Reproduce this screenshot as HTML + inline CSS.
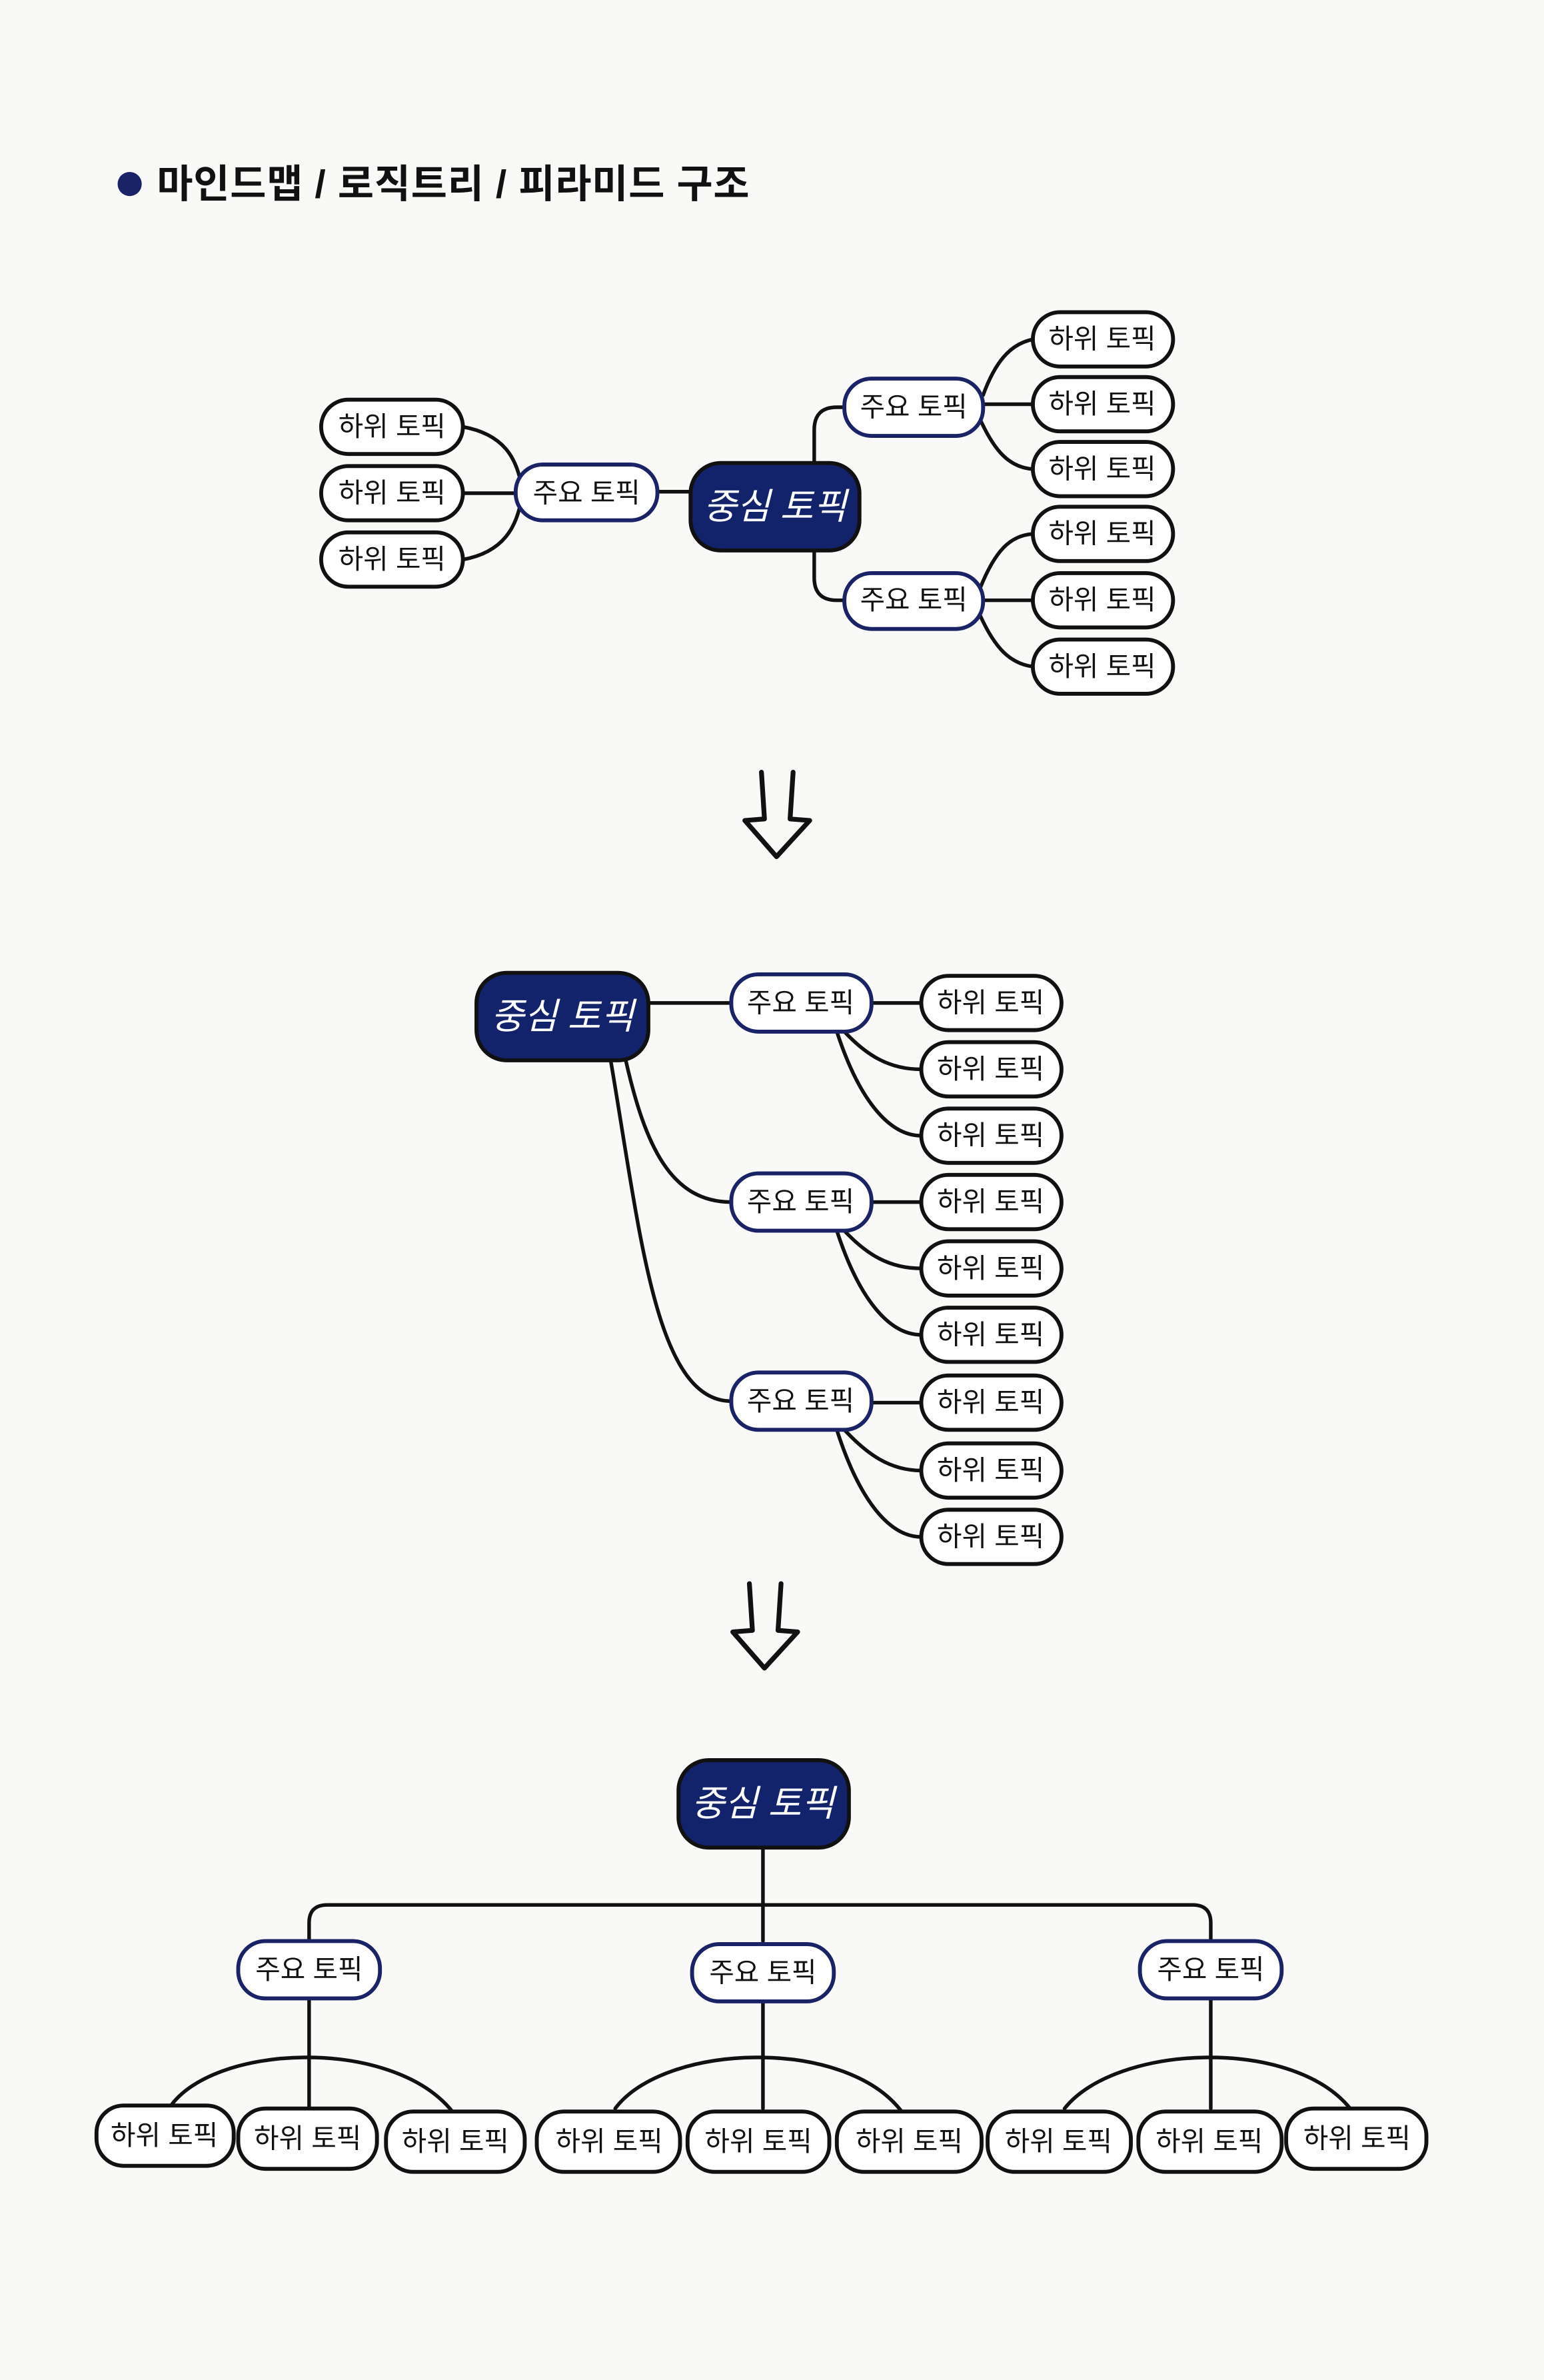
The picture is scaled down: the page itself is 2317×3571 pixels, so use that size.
<!DOCTYPE html>
<html><head><meta charset="utf-8"><style>
html,body{margin:0;padding:0;background:#f9f9f8;}
svg{display:block;}
text{font-family:"Liberation Sans","Noto Sans CJK KR",sans-serif;}
</style></head><body>
<svg width="2317" height="3571" viewBox="0 0 1024 1578" preserveAspectRatio="none" xmlns="http://www.w3.org/2000/svg">
<rect width="1024" height="1578" fill="#f9f9f8"/>
<circle cx="86" cy="122" r="8" fill="#1a2366"/>
<text x="104" y="131" font-size="26" font-weight="bold" fill="#111" textLength="393" lengthAdjust="spacing">마인드맵 / 로직트리 / 피라미드 구조</text>

<g fill="none" stroke="#111" stroke-width="2.4" stroke-linecap="round">
<path d="M540,307 V285 Q540,270 555,270 H560"/>
<path d="M540,365 V383 Q540,398 555,398 H560"/>
<path d="M436,326 H458"/>
<path d="M307,283 C335,288 342,305 345,318"/>
<path d="M307,327 H342"/>
<path d="M307,371 C335,366 342,348 345,335"/>
<path d="M652,262 C660,240 670,228 685,225"/>
<path d="M652,268 H685"/>
<path d="M650,278 C660,300 670,310 685,311"/>
<path d="M650,390 C660,365 670,355 685,354"/>
<path d="M652,398 H685"/>
<path d="M650,408 C660,430 670,440 685,442"/>
<path d="M505,512 L507,543 L494,544 L515,568 L537,544 L524,543 L526,512" stroke-width="3.2" stroke-linejoin="round"/>
<path d="M497,1050 L499,1081 L486,1082 L507,1106 L529,1082 L516,1081 L518,1050" stroke-width="3.2" stroke-linejoin="round"/>
<path d="M430,665 H485"/>
<path d="M415,703 C428,760 445,797 485,797"/>
<path d="M405,703 C425,820 435,929 485,929"/>
<path d="M578,665 H611"/>
<path d="M560,684 C575,700 590,709 611,709"/>
<path d="M555,684 C570,730 590,753 611,753"/>
<path d="M578,797 H611"/>
<path d="M560,816 C575,832 590,841 611,841"/>
<path d="M555,816 C570,862 590,885 611,885"/>
<path d="M578,930 H611"/>
<path d="M560,948 C575,964 590,975 611,975"/>
<path d="M555,948 C570,995 590,1019 611,1019"/>
<path d="M506,1225 V1287"/>
<path d="M205,1287 V1275 Q205,1263 217,1263 H791 Q803,1263 803,1275 V1287"/>
<path d="M205,1325 V1398"/>
<path d="M506,1325 V1398"/>
<path d="M803,1325 V1398"/>
<path d="M112,1398 C140,1355 260,1350 300,1400"/>
<path d="M408,1398 C440,1355 560,1350 598,1400"/>
<path d="M706,1398 C740,1355 860,1350 897,1400"/>
</g>

<g stroke-width="2.6">
<rect x="458" y="307" width="112" height="58" rx="20" fill="#13236b" stroke="#111"/>
<rect x="316" y="645" width="114" height="58" rx="20" fill="#13236b" stroke="#111"/>
<rect x="450" y="1167" width="113" height="58" rx="20" fill="#13236b" stroke="#111"/>
<g fill="#fff" stroke="#1a2366">
<rect x="342" y="308" width="94" height="37" rx="18"/>
<rect x="560" y="251" width="92" height="38" rx="18"/>
<rect x="560" y="380" width="92" height="37" rx="18"/>
<rect x="485" y="646" width="93" height="38" rx="18"/>
<rect x="485" y="778" width="93" height="38" rx="18"/>
<rect x="485" y="910" width="93" height="38" rx="18"/>
<rect x="158" y="1287" width="94" height="38" rx="18"/>
<rect x="459" y="1289" width="94" height="38" rx="18"/>
<rect x="756" y="1287" width="94" height="38" rx="18"/>
</g>
<g fill="#fff" stroke="#111">
<rect x="213" y="265" width="94" height="36" rx="18"/>
<rect x="213" y="309" width="94" height="36" rx="18"/>
<rect x="213" y="353" width="94" height="36" rx="18"/>
<rect x="685" y="207" width="93" height="36" rx="18"/>
<rect x="685" y="250" width="93" height="36" rx="18"/>
<rect x="685" y="293" width="93" height="36" rx="18"/>
<rect x="685" y="336" width="93" height="36" rx="18"/>
<rect x="685" y="380" width="93" height="36" rx="18"/>
<rect x="685" y="424" width="93" height="36" rx="18"/>
<rect x="611" y="647" width="93" height="36" rx="18"/>
<rect x="611" y="691" width="93" height="36" rx="18"/>
<rect x="611" y="735" width="93" height="36" rx="18"/>
<rect x="611" y="779" width="93" height="36" rx="18"/>
<rect x="611" y="823" width="93" height="36" rx="18"/>
<rect x="611" y="867" width="93" height="36" rx="18"/>
<rect x="611" y="912" width="93" height="36" rx="18"/>
<rect x="611" y="957" width="93" height="36" rx="18"/>
<rect x="611" y="1001" width="93" height="36" rx="18"/>
<rect x="64" y="1396" width="91" height="40" rx="18"/>
<rect x="158" y="1398" width="92" height="40" rx="18"/>
<rect x="256" y="1400" width="92" height="40" rx="18"/>
<rect x="356" y="1400" width="95" height="40" rx="18"/>
<rect x="456" y="1400" width="94" height="40" rx="18"/>
<rect x="555" y="1400" width="96" height="40" rx="18"/>
<rect x="655" y="1400" width="95" height="40" rx="18"/>
<rect x="755" y="1400" width="95" height="40" rx="18"/>
<rect x="853" y="1398" width="93" height="40" rx="18"/>
</g>
</g>

<g font-size="24" fill="#fff" text-anchor="middle" font-style="italic">
<text x="514" y="344">중심 토픽</text>
<text x="373" y="682">중심 토픽</text>
<text x="506" y="1204">중심 토픽</text>
</g>
<g font-size="18" fill="#111" text-anchor="middle">
<text x="389" y="333">주요 토픽</text>
<text x="606" y="276">주요 토픽</text>
<text x="606" y="404">주요 토픽</text>
<text x="531" y="671">주요 토픽</text>
<text x="531" y="803">주요 토픽</text>
<text x="531" y="935">주요 토픽</text>
<text x="205" y="1312">주요 토픽</text>
<text x="506" y="1314">주요 토픽</text>
<text x="803" y="1312">주요 토픽</text>
<text x="260" y="289">하위 토픽</text>
<text x="260" y="333">하위 토픽</text>
<text x="260" y="377">하위 토픽</text>
<text x="731" y="231">하위 토픽</text>
<text x="731" y="274">하위 토픽</text>
<text x="731" y="317">하위 토픽</text>
<text x="731" y="360">하위 토픽</text>
<text x="731" y="404">하위 토픽</text>
<text x="731" y="448">하위 토픽</text>
<text x="657" y="671">하위 토픽</text>
<text x="657" y="715">하위 토픽</text>
<text x="657" y="759">하위 토픽</text>
<text x="657" y="803">하위 토픽</text>
<text x="657" y="847">하위 토픽</text>
<text x="657" y="891">하위 토픽</text>
<text x="657" y="936">하위 토픽</text>
<text x="657" y="981">하위 토픽</text>
<text x="657" y="1025">하위 토픽</text>
<text x="109" y="1422">하위 토픽</text>
<text x="204" y="1424">하위 토픽</text>
<text x="302" y="1426">하위 토픽</text>
<text x="404" y="1426">하위 토픽</text>
<text x="503" y="1426">하위 토픽</text>
<text x="603" y="1426">하위 토픽</text>
<text x="702" y="1426">하위 토픽</text>
<text x="802" y="1426">하위 토픽</text>
<text x="900" y="1424">하위 토픽</text>
</g>
</svg>
</body></html>
